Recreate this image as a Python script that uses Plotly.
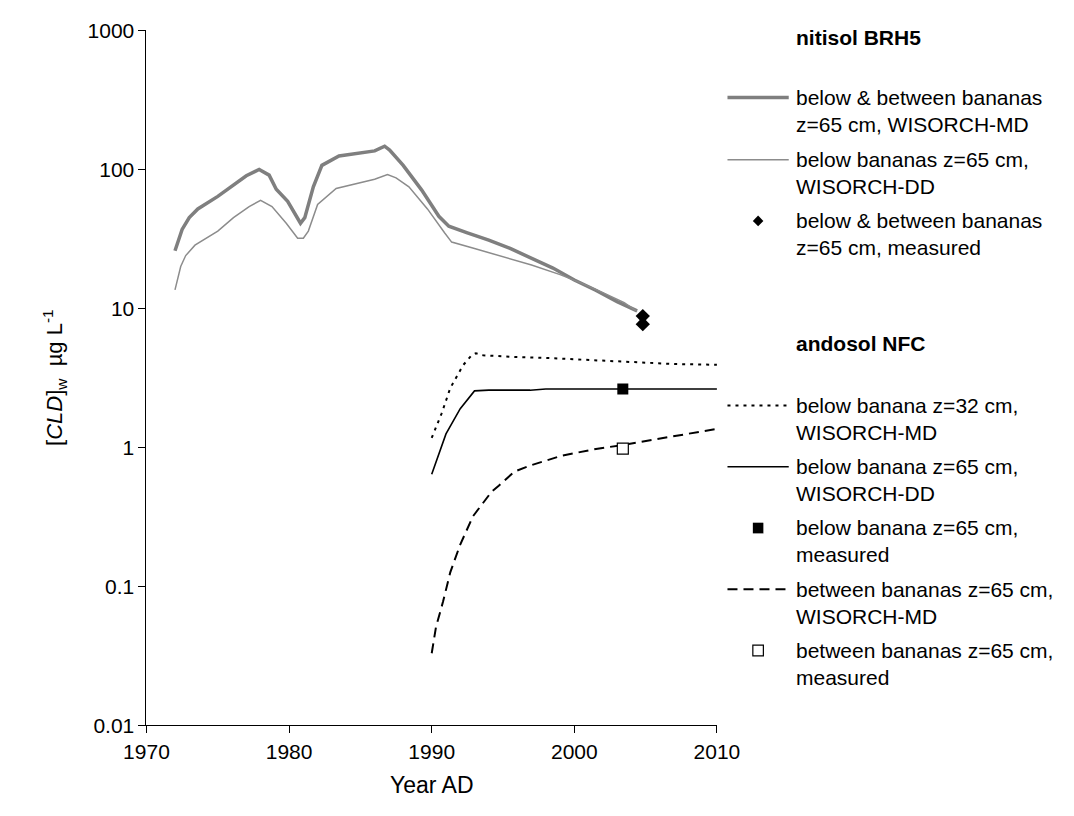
import plotly.graph_objects as go

# ---------------- data ----------------
# nitisol BRH5
yr_md = [1972.0, 1972.5, 1973.0, 1973.6, 1975.0, 1976.1, 1977.0, 1977.9, 1978.6, 1979.1,
         1979.9, 1980.8, 1981.1, 1981.7, 1982.3, 1983.5, 1984.8, 1986.0, 1986.7, 1987.05,
         1988.0, 1989.3, 1990.5, 1991.2, 1992.5, 1994.0, 1995.5, 1997.0, 1998.5, 2000.0,
         2001.5, 2003.0, 2004.4]
cld_md = [26, 37, 45, 52, 64, 77, 90, 100, 91, 72,
          59, 41, 45, 75, 107, 125, 131, 136, 147, 138,
          107, 71, 46, 39, 35, 31, 27, 23, 19.5, 16,
          13.5, 11.2, 9.6]

yr_dd = [1972.0, 1972.4, 1972.75, 1973.4, 1975.0, 1976.1, 1977.2, 1978.0, 1978.8, 1979.8,
         1980.6, 1981.0, 1981.35, 1982.0, 1983.3, 1984.8, 1986.0, 1986.9, 1987.5, 1988.4,
         1989.7, 1990.9, 1991.4, 1993.0, 1995.0, 1997.0, 1999.0, 2000.5, 2002.0, 2003.5,
         2004.4]
cld_dd = [13.6, 20, 24, 28.5, 36, 45, 54, 60, 54, 41,
          32, 32, 36, 56, 73, 80, 85, 92, 87, 75,
          52, 35, 30, 27, 23.5, 20.5, 17.5, 15.2, 13, 11,
          9.5]

yr_nit_meas = [2004.8, 2004.8]
cld_nit_meas = [8.8, 7.7]

# andosol NFC
yr_a32 = [1990.0, 1990.7, 1991.3, 1992.2, 1992.8, 1993.1, 1993.6, 1995.8, 1998.0, 2000.3,
          2002.5, 2004.8, 2007.0, 2010.0]
cld_a32 = [1.17, 1.76, 2.67, 3.9, 4.6, 4.76, 4.6, 4.47, 4.4, 4.3,
           4.2, 4.1, 3.98, 3.93]

yr_a65 = [1990.0, 1991.0, 1992.0, 1993.0, 1994.0, 1996.9, 1998.0, 2010.0]
cld_a65 = [0.64, 1.25, 1.9, 2.55, 2.58, 2.58, 2.63, 2.63]

yr_btw = [1990.0, 1990.3, 1990.8, 1991.3, 1992.0, 1992.9, 1994.2, 1994.7, 1995.8, 1996.9,
          1999.1, 2001.4, 2003.4, 2004.8, 2007.0, 2010.0]
cld_btw = [0.033, 0.051, 0.078, 0.126, 0.20, 0.32, 0.48, 0.53, 0.67, 0.74,
           0.87, 0.97, 1.04, 1.10, 1.21, 1.36]

yr_a65_meas = [2003.4]
cld_a65_meas = [2.63]
yr_btw_meas = [2003.4]
cld_btw_meas = [0.98]

y_tickvals = [0.01, 0.1, 1, 10, 100, 1000]
y_ticktext = ["0.01", "0.1", "1", "10", "100", "1000"]
x_tickvals = [1970, 1980, 1990, 2000, 2010]

legend_nitisol = ["below & between bananas<br>z=65 cm, WISORCH-MD",
                  "below bananas z=65 cm,<br>WISORCH-DD",
                  "below & between bananas<br>z=65 cm, measured"]
legend_andosol = ["below banana z=32 cm,<br>WISORCH-MD",
                  "below banana z=65 cm,<br>WISORCH-DD",
                  "below banana z=65 cm,<br>measured",
                  "between bananas z=65 cm,<br>WISORCH-MD",
                  "between bananas z=65 cm,<br>measured"]

# ---------------- figure ----------------
W, H = 1074, 816
FONT = "Liberation Sans, Arial, sans-serif"


def px(x):
    return x / W


def py(y):
    return 1 - y / H


fig = go.Figure()
fig.add_trace(go.Scatter(x=yr_md, y=cld_md, mode="lines",
                         line=dict(color="#7f7f7f", width=3.5), showlegend=False))
fig.add_trace(go.Scatter(x=yr_dd, y=cld_dd, mode="lines",
                         line=dict(color="#8c8c8c", width=1.5), showlegend=False))
fig.add_trace(go.Scatter(x=yr_nit_meas, y=cld_nit_meas, mode="markers",
                         marker=dict(symbol="diamond", size=11, color="black"), showlegend=False))
fig.add_trace(go.Scatter(x=yr_a32, y=cld_a32, mode="lines",
                         line=dict(color="black", width=2, dash="3px,5px"), showlegend=False))
fig.add_trace(go.Scatter(x=yr_a65, y=cld_a65, mode="lines",
                         line=dict(color="black", width=1.6), showlegend=False))
fig.add_trace(go.Scatter(x=yr_btw, y=cld_btw, mode="lines",
                         line=dict(color="black", width=2, dash="10px,6px"), showlegend=False))
fig.add_trace(go.Scatter(x=yr_a65_meas, y=cld_a65_meas, mode="markers",
                         marker=dict(symbol="square", size=11, color="black"), showlegend=False))
fig.add_trace(go.Scatter(x=yr_btw_meas, y=cld_btw_meas, mode="markers",
                         marker=dict(symbol="square", size=11, color="white",
                                     line=dict(color="black", width=1.2)), showlegend=False))

# ---------------- manual legend ----------------
shapes = []
annotations = []
LX0, LX1, TX = 736, 800, 806
SYMX = 768


def legend_text(y, text, bold=False):
    annotations.append(dict(xref="paper", yref="paper", x=px(TX), y=py(y),
                            xanchor="left", yanchor="top", align="left", showarrow=False,
                            text=("<b>%s</b>" % text) if bold else text,
                            font=dict(family=FONT, size=21, color="black")))


def legend_line(y, color, width, dash="solid"):
    shapes.append(dict(type="line", xref="paper", yref="paper",
                       x0=px(LX0), x1=px(LX1), y0=py(y), y1=py(y),
                       line=dict(color=color, width=width, dash=dash)))


legend_text(12, "nitisol BRH5", bold=True)
item_y_n = [88, 152, 215]
for yy, txt in zip(item_y_n, legend_nitisol):
    legend_text(yy - 14, txt)
legend_line(item_y_n[0], "#7f7f7f", 3.5)
legend_line(item_y_n[1], "#8c8c8c", 1.5)
d = 5.5
yc = item_y_n[2]
shapes.append(dict(type="path", xref="paper", yref="paper",
                   path="M %f %f L %f %f L %f %f L %f %f Z" % (
                       px(SYMX), py(yc - d), px(SYMX + d), py(yc), px(SYMX), py(yc + d),
                       px(SYMX - d), py(yc)),
                   fillcolor="black", line=dict(width=0)))

legend_text(327, "andosol NFC", bold=True)
item_y_a = [405, 468, 531, 594, 657]
for yy, txt in zip(item_y_a, legend_andosol):
    legend_text(yy - 14, txt)
legend_line(item_y_a[0], "black", 2, "3px,5px")
legend_line(item_y_a[1], "black", 1.6)
s = 5.5
shapes.append(dict(type="rect", xref="paper", yref="paper",
                   x0=px(SYMX - s), x1=px(SYMX + s), y0=py(item_y_a[2] - s), y1=py(item_y_a[2] + s),
                   fillcolor="black", line=dict(width=0)))
legend_line(item_y_a[3], "black", 2, "10px,6px")
shapes.append(dict(type="rect", xref="paper", yref="paper",
                   x0=px(SYMX - s), x1=px(SYMX + s), y0=py(item_y_a[4] - s), y1=py(item_y_a[4] + s),
                   fillcolor="white", line=dict(color="black", width=1.2)))

# axis titles
annotations.append(dict(xref="paper", yref="paper", x=px(427), y=py(795),
                        xanchor="center", yanchor="middle", showarrow=False,
                        text="Year AD", font=dict(family=FONT, size=23, color="black")))
annotations.append(dict(xref="paper", yref="paper", x=px(33), y=py(376),
                        xanchor="center", yanchor="middle", showarrow=False, textangle=-90,
                        text="[<i>CLD</i>]<sub>w</sub>  µg L<sup>-1</sup>",
                        font=dict(family=FONT, size=22, color="black")))

fig.update_layout(
    width=W, height=H,
    margin=dict(l=0, r=0, t=0, b=0),
    paper_bgcolor="white", plot_bgcolor="white",
    font=dict(family=FONT, size=21, color="black"),
    showlegend=False,
    shapes=shapes,
    annotations=annotations,
    xaxis=dict(domain=[px(129), px(725)], range=[1970, 2010], tickvals=x_tickvals,
               ticks="outside", ticklen=7, tickcolor="black", showline=True,
               linecolor="black", linewidth=1, showgrid=False, zeroline=False,
               tickfont=dict(family=FONT, size=21, color="black")),
    yaxis=dict(domain=[py(734), py(19)], type="log", range=[-2, 3],
               tickvals=y_tickvals, ticktext=y_ticktext,
               ticks="outside", ticklen=7, tickcolor="black", showline=True,
               linecolor="black", linewidth=1, showgrid=False, zeroline=False,
               tickfont=dict(family=FONT, size=21, color="black")),
)

fig.write_html("out.html", config={"displayModeBar": False},
               post_script="document.body.style.margin='0';")
